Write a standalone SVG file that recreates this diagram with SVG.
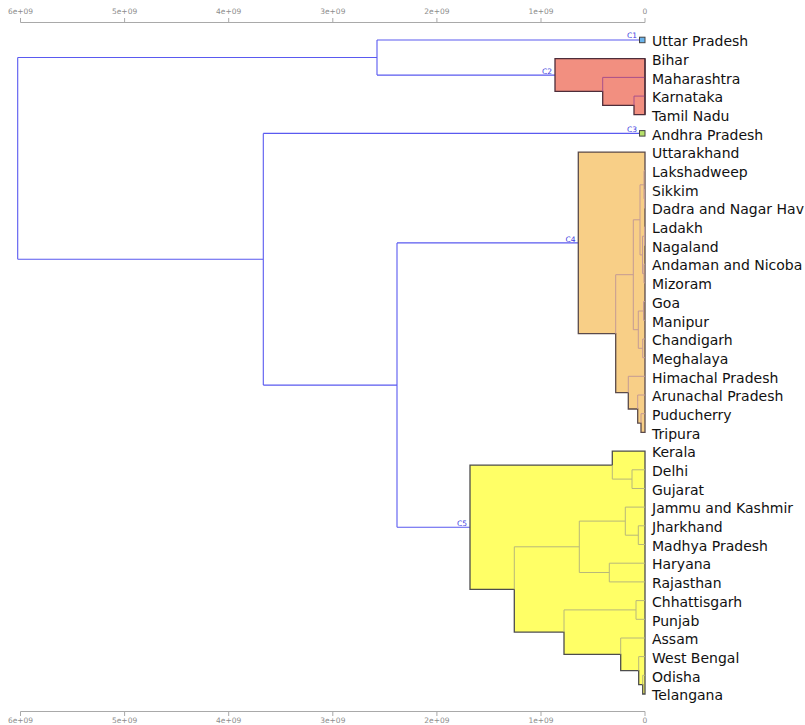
<svg xmlns="http://www.w3.org/2000/svg" width="805" height="725" viewBox="0 0 805 725">
<style>
.ax{stroke:#a9a9a9;stroke-width:1;fill:none}
.axt{font-family:"DejaVu Sans",sans-serif;font-size:7.5px;fill:#8c8c8c;text-anchor:middle}
.br{stroke:#5a5af0;stroke-width:1.1;fill:none}
.cl{font-family:"DejaVu Sans",sans-serif;font-size:7.5px;fill:#4040e0;text-anchor:end}
.lf{font-family:"DejaVu Sans",sans-serif;font-size:14px;fill:#111}
.c2f{fill:#f28f80;stroke:#4d2d3a;stroke-width:1.3}
.c2i{stroke:#a8508a;stroke-width:1;fill:none}
.c4f{fill:#f8cf87;stroke:#5a4a4a;stroke-width:1.3}
.c4i{stroke:#c49a94;stroke-width:1;fill:none}
.c5f{fill:#ffff66;stroke:#4d4d4d;stroke-width:1.3}
.c5i{stroke:#b8b87a;stroke-width:1;fill:none}
.bx{stroke:#444;stroke-width:1}
</style>
<g id="axis-top">
<path class="ax" d="M20.5,22.5H645M20.5,18V22.5M124.6,18V22.5M228.7,18V22.5M332.8,18V22.5M436.9,18V22.5M541,18V22.5M645,18V22.5"/>
<text class="axt" x="20.5" y="14">6e+09</text><text class="axt" x="124.6" y="14">5e+09</text><text class="axt" x="228.7" y="14">4e+09</text><text class="axt" x="332.8" y="14">3e+09</text><text class="axt" x="436.9" y="14">2e+09</text><text class="axt" x="541" y="14">1e+09</text><text class="axt" x="645" y="14">0</text>
</g>
<g id="axis-bottom">
<path class="ax" d="M20.5,711.5H645M20.5,711.5V716M124.6,711.5V716M228.7,711.5V716M332.8,711.5V716M436.9,711.5V716M541,711.5V716M645,711.5V716"/>
<text class="axt" x="20.5" y="723">6e+09</text><text class="axt" x="124.6" y="723">5e+09</text><text class="axt" x="228.7" y="723">4e+09</text><text class="axt" x="332.8" y="723">3e+09</text><text class="axt" x="436.9" y="723">2e+09</text><text class="axt" x="541" y="723">1e+09</text><text class="axt" x="645" y="723">0</text>
</g>
<g id="connectors">
<path class="br" d="M17.7,57.5V259.3M17.7,57.5H377M17.7,259.3H263.3M377,40V75.1M377,40H639.5M377,75.1H555M263.3,133.4V385.1M263.3,133.4H639.5M263.3,385.1H397M397,242.9V527.3M397,242.9H578.3M397,527.3H470"/>
</g>
<g id="C1">
<rect class="bx" x="639.5" y="37.2" width="5.5" height="5.5" fill="#6ab4ec"/>
<text class="cl" x="637" y="38">C1</text>
</g>
<g id="C2">
<path class="c2f" d="M555,58.7H645V114.7H634V105.4H602.7V91.4H555Z"/>
<path class="c2i" d="M602.7,77.4V91.4M602.7,77.4H645M634,96.1V105.4M634,96.1H645"/>
<path fill="none" stroke="#4d2d3a" stroke-width="1.3" d="M645,58.7V114.7"/>
<text class="cl" x="552" y="73.5">C2</text>
</g>
<g id="C3">
<rect class="bx" x="639.5" y="130.6" width="5.5" height="5.5" fill="#b6e06a"/>
<text class="cl" x="637" y="131.5">C3</text>
</g>
<g id="C4">
<path class="c4f" d="M578.3,152.1H645V432.4H641V423.1H637.7V409H628.3V392.7H615.7V333.7H578.3Z"/>
<path class="c4i" d="M615.7,274.7V333.7M615.7,274.7H633.3M633.3,219.8V329.7M633.3,219.8H640M633.3,329.7H638.3M640,184.8V254.9M640,184.8H644M640,254.9H642.5M644,170.8V198.8M644,170.8H645M644,198.8H644.5M644.5,189.5V208.2M644.5,189.5H645M644.5,208.2H645M642.5,236.2V273.6M642.5,236.2H644.5M642.5,273.6H644M644.5,226.9V245.5M644.5,226.9H645M644.5,245.5H645M644,264.2V282.9M644,264.2H645M644,282.9H645M638.3,311V348.3M638.3,311H643.5M638.3,348.3H642.7M643.5,301.6V320.3M643.5,301.6H645M643.5,320.3H645M642.7,339V357.7M642.7,339H645M642.7,357.7H645M628.3,376.3V392.7M628.3,376.3H645M637.7,395V409M637.7,395H645M641,413.7V423.1M641,413.7H645"/>
<text class="cl" x="575.5" y="241.5">C4</text>
</g>
<g id="C5">
<path class="c5f" d="M470,465.1H612.3V451.1H645V694H642.7V684.7H638.7V670.6H620.7V654.3H564V632.1H514.3V589.4H470Z"/>
<path class="c5i" d="M612.3,465.1V479.1M612.3,479.1H632M632,469.8V488.5M632,469.8H645M632,488.5H645M514.3,546.8V589.4M514.3,546.8H579.3M579.3,521.1V572.5M579.3,521.1H625.3M579.3,572.5H609.3M625.3,507.1V535.2M625.3,507.1H645M625.3,535.2H638.3M638.3,525.8V544.5M638.3,525.8H645M638.3,544.5H645M609.3,563.2V581.9M609.3,563.2H645M609.3,581.9H645M564,609.9V632.1M564,609.9H636M636,600.6V619.3M636,600.6H645M636,619.3H645M620.7,638V654.3M620.7,638H645M638.7,656.6V670.6M638.7,656.6H645M642.7,675.3V684.7M642.7,675.3H645"/>
<text class="cl" x="467" y="525.5">C5</text>
</g>
<g id="leaves">
<text class="lf" x="652" y="46.2">Uttar Pradesh</text>
<text class="lf" x="652" y="64.9">Bihar</text>
<text class="lf" x="652" y="83.6">Maharashtra</text>
<text class="lf" x="652" y="102.3">Karnataka</text>
<text class="lf" x="652" y="120.9">Tamil Nadu</text>
<text class="lf" x="652" y="139.6">Andhra Pradesh</text>
<text class="lf" x="652" y="158.3">Uttarakhand</text>
<text class="lf" x="652" y="177">Lakshadweep</text>
<text class="lf" x="652" y="195.7">Sikkim</text>
<text class="lf" x="652" y="214.4">Dadra and Nagar Hav</text>
<text class="lf" x="652" y="233.1">Ladakh</text>
<text class="lf" x="652" y="251.7">Nagaland</text>
<text class="lf" x="652" y="270.4">Andaman and Nicoba</text>
<text class="lf" x="652" y="289.1">Mizoram</text>
<text class="lf" x="652" y="307.8">Goa</text>
<text class="lf" x="652" y="326.5">Manipur</text>
<text class="lf" x="652" y="345.2">Chandigarh</text>
<text class="lf" x="652" y="363.9">Meghalaya</text>
<text class="lf" x="652" y="382.5">Himachal Pradesh</text>
<text class="lf" x="652" y="401.2">Arunachal Pradesh</text>
<text class="lf" x="652" y="419.9">Puducherry</text>
<text class="lf" x="652" y="438.6">Tripura</text>
<text class="lf" x="652" y="457.3">Kerala</text>
<text class="lf" x="652" y="476">Delhi</text>
<text class="lf" x="652" y="494.7">Gujarat</text>
<text class="lf" x="652" y="513.3">Jammu and Kashmir</text>
<text class="lf" x="652" y="532">Jharkhand</text>
<text class="lf" x="652" y="550.7">Madhya Pradesh</text>
<text class="lf" x="652" y="569.4">Haryana</text>
<text class="lf" x="652" y="588.1">Rajasthan</text>
<text class="lf" x="652" y="606.8">Chhattisgarh</text>
<text class="lf" x="652" y="625.5">Punjab</text>
<text class="lf" x="652" y="644.2">Assam</text>
<text class="lf" x="652" y="662.8">West Bengal</text>
<text class="lf" x="652" y="681.5">Odisha</text>
<text class="lf" x="652" y="700.2">Telangana</text>
</g>
</svg>
